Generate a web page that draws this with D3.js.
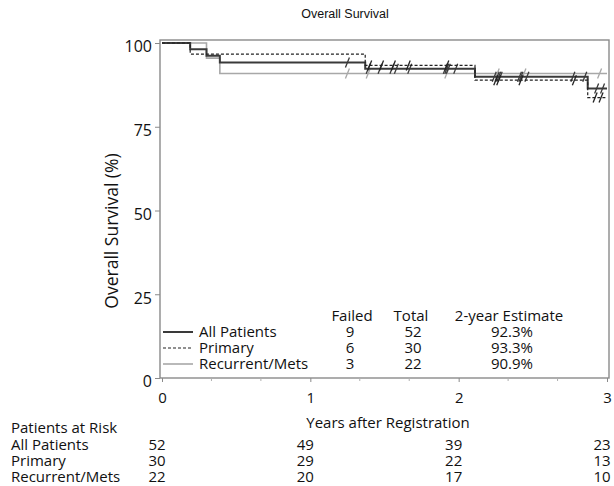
<!DOCTYPE html>
<html><head><meta charset="utf-8">
<script src="https://cdn.jsdelivr.net/npm/d3@7"></script>
<style>
html,body{margin:0;padding:0;background:#fff;}
text{font-family:"Open Sans",sans-serif;fill:#111;}
</style></head>
<body><svg id="c" width="614" height="486"></svg>
<script>
// ---- data ----
const seriesNames = ["All Patients", "Primary", "Recurrent/Mets"];
const allTimes  = [0, 0.19, 0.30, 0.39, 1.37, 2.11, 2.87, 3.0];
const allSurv   = [100, 98.1, 96.2, 94.2, 92.3, 89.9, 86.4, 86.4];
const primTimes = [0, 0.19, 1.37, 2.11, 2.87, 3.0];
const primSurv  = [100, 96.7, 93.3, 88.9, 83.7, 83.7];
const recTimes  = [0, 0.30, 0.39, 3.0];
const recSurv   = [100, 95.5, 90.9, 90.9];
const allCensor  = [1.25, 1.39, 1.47, 1.55, 1.58, 1.67, 1.91, 1.92, 1.93, 1.98, 2.24, 2.26, 2.27, 2.28, 2.41, 2.42, 2.46, 2.77, 2.85, 2.93, 2.97];
const primCensor = [1.40, 1.48, 1.56, 1.66, 1.92, 2.25, 2.27, 2.42, 2.78, 2.92, 2.96];
const recCensor  = [1.25, 1.39, 1.92, 2.26, 2.44, 2.95];
const failed = [9, 6, 3];
const total = [52, 30, 22];
const estimate = ["92.3%", "93.3%", "90.9%"];
const riskTimes = [0, 1, 2, 3];
const riskAll  = [52, 49, 39, 23];
const riskPrim = [30, 29, 22, 13];
const riskRec  = [22, 20, 17, 10];
const yTicks = [0, 25, 50, 75, 100];
const xTicks = [0, 1, 2, 3];

// ---- layout ----
const svg = d3.select("#c");
const x = d3.scaleLinear().domain([0, 3]).range([162, 607]);
const y = d3.scaleLinear().domain([0, 100]).range([378, 43]);
const styles = [
  {stroke: "#3a3a3a", width: 2, dash: null},
  {stroke: "#222", width: 1.2, dash: "3,2"},
  {stroke: "#a8a8a8", width: 1.6, dash: null}
];

// frame
svg.append("rect").attr("x", 160).attr("y", 40).attr("width", 449).attr("height", 338)
  .attr("fill", "none").attr("stroke", "#8a8a8a").attr("stroke-width", 1.4);

// y axis
const yAxis = d3.axisLeft(y).tickValues(yTicks).tickSize(5).tickPadding(3);
const gy = svg.append("g").attr("transform", "translate(160,0)").call(yAxis);
gy.select(".domain").remove();
gy.selectAll("line").attr("stroke", "#8a8a8a");
gy.selectAll("text").style("font-size", "16px").attr("fill", "#111").attr("dy", "0.55em");

// x axis
const xAxis = d3.axisBottom(x).tickValues(xTicks).tickFormat(d3.format("d")).tickSize(4).tickPadding(10);
const gx = svg.append("g").attr("transform", "translate(0,378)").call(xAxis);
gx.select(".domain").remove();
gx.selectAll("line").attr("stroke", "#8a8a8a");
gx.selectAll("text").style("font-size", "15px").attr("fill", "#111");
const minor = d3.range(0, 3.001, 1/3).filter(v => Math.abs(v - Math.round(v)) > 0.01);
svg.append("g").selectAll("line").data(minor).join("line")
  .attr("x1", d => x(d)).attr("x2", d => x(d)).attr("y1", 378).attr("y2", 381)
  .attr("stroke", "#b0b0b0");

// title & axis labels
svg.append("text").attr("x", 345).attr("y", 18).attr("text-anchor", "middle")
  .style("font-family", "'Liberation Sans', Arial, sans-serif").style("font-size", "12.5px").attr("fill", "#333").text("Overall Survival");
svg.append("text").attr("transform", "translate(118,231) rotate(-90)").attr("text-anchor", "middle")
  .style("font-size", "17.5px").text("Overall Survival (%)");
svg.append("text").attr("x", 388).attr("y", 428).attr("text-anchor", "middle")
  .style("font-size", "15px").text("Years after Registration");

// curves
const curves = [
  {t: allTimes, s: allSurv, c: allCensor},
  {t: primTimes, s: primSurv, c: primCensor},
  {t: recTimes, s: recSurv, c: recCensor}
];
const line = d3.line().x(d => x(d[0])).y(d => y(d[1])).curve(d3.curveStepAfter);
function survAt(cv, t) {
  let v = cv.s[0];
  for (let i = 0; i < cv.t.length; i++) if (cv.t[i] <= t) v = cv.s[i];
  return v;
}
[2, 0, 1].forEach(i => {
  const cv = curves[i], st = styles[i];
  svg.append("path").datum(cv.t.map((t, j) => [t, cv.s[j]]))
    .attr("d", line).attr("fill", "none").attr("stroke", st.stroke)
    .attr("stroke-width", st.width).attr("stroke-dasharray", st.dash);
  svg.append("g").selectAll("line").data(cv.c).join("line")
    .attr("x1", d => x(d) - 2).attr("x2", d => x(d) + 2)
    .attr("y1", d => y(survAt(cv, d)) + 5).attr("y2", d => y(survAt(cv, d)) - 5)
    .attr("stroke", st.stroke).attr("stroke-width", 1.3);
});

// legend inside plot
const rowY = [337, 353, 369];
const hdr = svg.append("g").style("font-size", "15px");
hdr.append("text").attr("x", 352).attr("y", 321).attr("text-anchor", "middle").text("Failed");
hdr.append("text").attr("x", 411).attr("y", 321).attr("text-anchor", "middle").text("Total");
hdr.append("text").attr("x", 509).attr("y", 321).attr("text-anchor", "middle").text("2-year Estimate");
seriesNames.forEach((n, i) => {
  const st = styles[i];
  svg.append("line").attr("x1", 163).attr("x2", 193).attr("y1", rowY[i] - 5).attr("y2", rowY[i] - 5)
    .attr("stroke", st.stroke).attr("stroke-width", st.width).attr("stroke-dasharray", st.dash);
  svg.append("text").attr("x", 199).attr("y", rowY[i]).style("font-size", "15px").text(n);
  svg.append("text").attr("x", 350).attr("y", rowY[i]).attr("text-anchor", "middle").style("font-size", "15px").text(failed[i]);
  svg.append("text").attr("x", 413).attr("y", rowY[i]).attr("text-anchor", "middle").style("font-size", "15px").text(total[i]);
  svg.append("text").attr("x", 512).attr("y", rowY[i]).attr("text-anchor", "middle").style("font-size", "15px").text(estimate[i]);
});

// risk table
const riskRows = [riskAll, riskPrim, riskRec];
const riskY = [450, 466, 482];
svg.append("text").attr("x", 11).attr("y", 433).style("font-size", "15px").text("Patients at Risk");
seriesNames.forEach((n, i) => {
  svg.append("text").attr("x", 11).attr("y", riskY[i]).style("font-size", "15px").text(n);
  svg.append("g").selectAll("text").data(riskTimes).join("text")
    .attr("x", d => x(d) - 5).attr("y", riskY[i]).attr("text-anchor", "middle")
    .style("font-size", "15px").text((d, j) => riskRows[i][j]);
});
</script></body></html>
